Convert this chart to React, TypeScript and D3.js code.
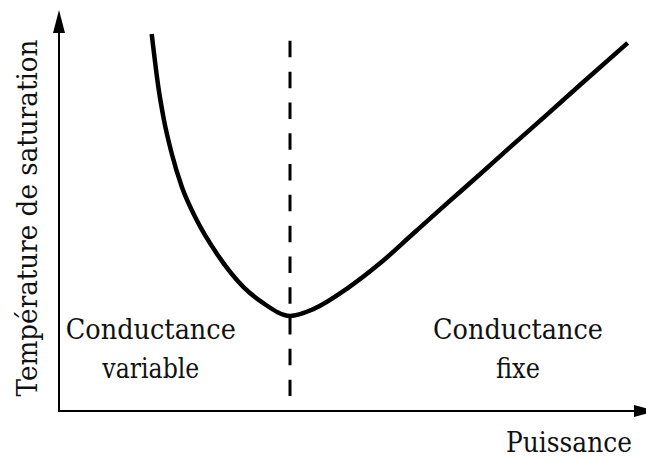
import React from "react";
import * as d3 from "d3";

// Curve samples (power, saturation temperature) in arbitrary units
const power = [1.596, 1.635, 1.709, 1.807, 1.94, 2.112, 2.37, 2.714, 3.172, 3.516, 3.976, 4.377, 4.952, 5.525, 6.098, 6.673, 7.246, 7.819, 8.394, 8.967, 9.788];
const temperature = [9.47, 8.99, 8.15, 7.31, 6.47, 5.64, 4.8, 3.96, 3.12, 2.71, 2.39, 2.56, 3.07, 3.71, 4.46, 5.21, 5.95, 6.7, 7.44, 8.19, 9.25];

// Regime boundary
const boundaryPower = 3.976;
const boundaryRange = [0.38, 9.3];

const regionLabels = [
  { lines: ["Conductance", "variable"], widths: [170, 97], p: 1.58 },
  { lines: ["Conductance", "fixe"], widths: [170, 44], p: 7.9 },
];
const xLabel = "Puissance";
const yLabel = "Température de saturation";

const W = 646;
const H = 459;

export default function App() {
  const x = d3.scaleLinear().domain([0, 10]).range([59, 640]);
  const y = d3.scaleLinear().domain([0, 10]).range([411, 13]);

  const pts: [number, number][] = power.map((p, i) => [p, temperature[i]]);
  const line = d3
    .line<[number, number]>()
    .x((d) => x(d[0]))
    .y((d) => y(d[1]))
    .curve(d3.curveMonotoneX);

  const font = "DejaVu Serif";
  const x0 = x(0);
  const y0 = y(0);

  return (
    <svg
      width={W}
      height={H}
      style={{ position: "absolute", left: 0, top: 0, background: "#fff" }}
    >
      {/* axes */}
      <line x1={x0} y1={y0 + 1} x2={x0} y2={30} stroke="#000" strokeWidth={2} />
      <line x1={x0 - 1} y1={y0} x2={636} y2={y0} stroke="#000" strokeWidth={2} />
      <path d={`M${x0},10 L${x0 - 6},33 L${x0 + 6},33 Z`} fill="#000" />
      <path d={`M657,${y0} L634,${y0 - 6} L634,${y0 + 6} Z`} fill="#000" />

      {/* dashed boundary */}
      <line
        x1={x(boundaryPower)}
        x2={x(boundaryPower)}
        y1={y(boundaryRange[1])}
        y2={y(boundaryRange[0])}
        stroke="#000"
        strokeWidth={3}
        strokeDasharray="16.5 14.3"
      />

      {/* curve */}
      <path d={line(pts) || ""} fill="none" stroke="#000" strokeWidth={4.5} strokeLinecap="butt" />

      {/* region labels */}
      <g style={{ fontFamily: font }} fontSize={27} fill="#111">
        {regionLabels.map((r, i) =>
          r.lines.map((t, j) => (
            <text
              key={`${i}-${j}`}
              x={x(r.p)}
              y={339 + j * 39}
              textAnchor="middle"
              textLength={r.widths[j]}
              lengthAdjust="spacingAndGlyphs"
            >
              {t}
            </text>
          ))
        )}
        <text x={632} y={452} textAnchor="end" textLength={126} lengthAdjust="spacingAndGlyphs">
          {xLabel}
        </text>
        <text
          transform={`translate(37,218) rotate(-90)`}
          textAnchor="middle"
          textLength={357}
          lengthAdjust="spacingAndGlyphs"
        >
          {yLabel}
        </text>
      </g>
    </svg>
  );
}
